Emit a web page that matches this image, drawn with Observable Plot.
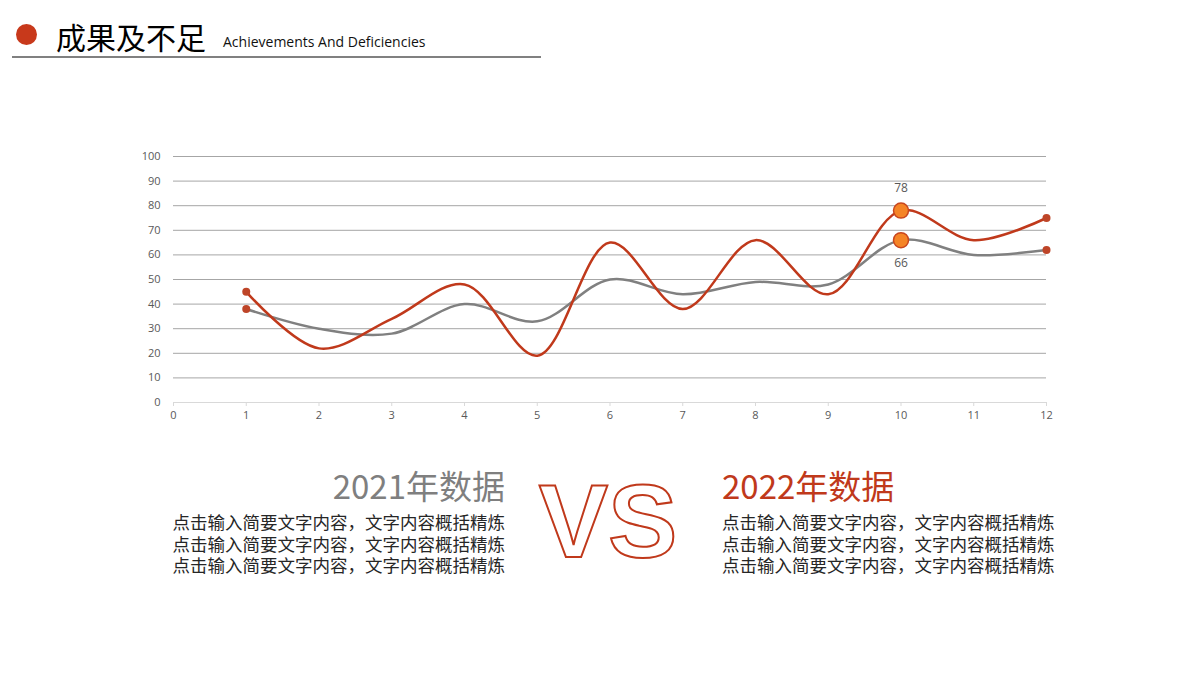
<!DOCTYPE html>
<html>
<head>
<meta charset="utf-8">
<script src="https://cdn.jsdelivr.net/npm/d3@7"></script>
<script src="https://cdn.jsdelivr.net/npm/@observablehq/plot@0.6"></script>
<style>
  html, body { margin:0; padding:0; background:#fff; }
  body { width:1200px; height:680px; position:relative; overflow:hidden; font-family:"Noto Sans CJK SC","Noto Sans",sans-serif; }
  .abs { position:absolute; white-space:nowrap; }
  #dot { left:16px; top:24px; width:21px; height:21px; border-radius:50%; background:#C8391B; }
  #title { left:56px; top:21px; font-size:30px; line-height:30px; color:#000; }
  #sub { left:223px; top:34.5px; font-family:"Open Sans",sans-serif; font-size:14px; line-height:14px; color:#111; }
  #rule { left:12px; top:56px; width:529px; height:2px; background:#808080; }
  #chart { left:0; top:130px; }
  .big { font-size:33px; line-height:33px; font-weight:400; }
  .body { font-size:17.5px; line-height:21.5px; color:#262626; }
  .body div { height:21.5px; overflow:visible; }
  #h21 { right:695px; top:468.5px; color:#7f7f7f; text-align:right; }
  #h22 { left:722px; top:468.5px; color:#C0391B; }
  #b21 { right:695px; top:511px; text-align:right; }
  #b22 { left:722px; top:511px; }
  #vs { left:518px; top:440px; }
</style>
</head>
<body>
<div id="dot" class="abs"></div>
<div id="title" class="abs">成果及不足</div>
<div id="sub" class="abs">Achievements And Deficiencies</div>
<div id="rule" class="abs"></div>
<div id="chart" class="abs"></div>
<div id="h21" class="abs big">2021年数据</div>
<div id="h22" class="abs big">2022年数据</div>
<div id="b21" class="abs body"></div>
<div id="b22" class="abs body"></div>
<svg id="vs" class="abs" width="180" height="140">
  <text x="90" y="117" text-anchor="middle" font-family="Liberation Sans, Arial, sans-serif" font-weight="bold" font-size="104" letter-spacing="0" fill="#fff" stroke="#C0391B" stroke-width="2">VS</text>
</svg>
<script>
const months = [1,2,3,4,5,6,7,8,9,10,11,12];
const values2021 = [38,30,28,40,33,50,44,49,48,66,60,62];
const values2022 = [45,22,34,48,19,65,38,66,44,78,66,75];
const xTicks = [0,1,2,3,4,5,6,7,8,9,10,11,12];
const yTicks = [0,10,20,30,40,50,60,70,80,90,100];
const highlightMonth = 10;
const endMonths = [1,12];
const bodyLines = ["点击输入简要文字内容，文字内容概括精炼","点击输入简要文字内容，文字内容概括精炼","点击输入简要文字内容，文字内容概括精炼"];

for (const id of ["b21","b22"]) {
  const box = document.getElementById(id);
  for (const line of bodyLines) {
    const d = document.createElement("div");
    d.textContent = line;
    box.appendChild(d);
  }
}

const rows2021 = months.map((m,i)=>({month:m, value:values2021[i]}));
const rows2022 = months.map((m,i)=>({month:m, value:values2022[i]}));
const ends = rows2021.concat(rows2022).filter(d=>endMonths.includes(d.month));
const hi2021 = rows2021.filter(d=>d.month===highlightMonth);
const hi2022 = rows2022.filter(d=>d.month===highlightMonth);

const RED = "#C0391B", GRAY = "#808080";

const chart = Plot.plot({
  width:1200, height:302,
  marginLeft:173, marginRight:154, marginTop:26, marginBottom:30,
  x:{domain:[0,12]},
  y:{domain:[0,100]},
  style:{fontFamily:"Open Sans, sans-serif", fontSize:"11px", background:"transparent", overflow:"visible"},
  marks:[
    Plot.ruleY(yTicks.filter(d=>d>0), {stroke:"#a6a6a6", strokeWidth:1}),
    Plot.ruleY([0], {stroke:"#d9d9d9", strokeWidth:1}),
    Plot.axisX({ticks:xTicks, tickSize:4, tickPadding:5, stroke:"#d9d9d9", fill:"#595959", label:null, tickFormat:d=>String(d)}),
    Plot.axisY({ticks:yTicks, tickSize:0, tickPadding:13, fill:"#595959", label:null, tickFormat:d=>String(d)}),
    Plot.line(rows2021, {x:"month", y:"value", stroke:GRAY, strokeWidth:2.5, curve:"catmull-rom"}),
    Plot.line(rows2022, {x:"month", y:"value", stroke:RED, strokeWidth:2.5, curve:"catmull-rom"}),
    Plot.dot(ends, {x:"month", y:"value", r:4, fill:"#BE4528", stroke:null}),
    Plot.dot(hi2021.concat(hi2022), {x:"month", y:"value", r:7.5, fill:"#F58426", stroke:"#C8461E", strokeWidth:1.5}),
    Plot.text(hi2022, {x:"month", y:"value", text:d=>String(d.value), dy:-22, fill:"#595959", fontSize:12}),
    Plot.text(hi2021, {x:"month", y:"value", text:d=>String(d.value), dy:23, fill:"#595959", fontSize:12})
  ]
});
document.getElementById("chart").appendChild(chart);
</script>
</body>
</html>
